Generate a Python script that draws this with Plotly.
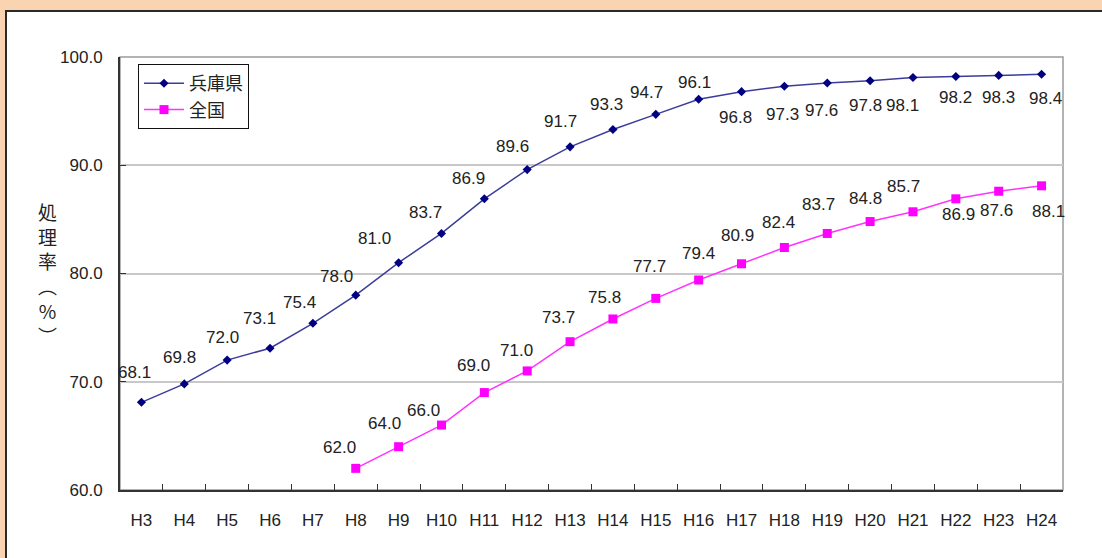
import plotly.graph_objects as go

categories = ["H3", "H4", "H5", "H6", "H7", "H8", "H9", "H10", "H11", "H12", "H13",
              "H14", "H15", "H16", "H17", "H18", "H19", "H20", "H21", "H22", "H23", "H24"]
hyogo = [68.1, 69.8, 72.0, 73.1, 75.4, 78.0, 81.0, 83.7, 86.9, 89.6, 91.7,
         93.3, 94.7, 96.1, 96.8, 97.3, 97.6, 97.8, 98.1, 98.2, 98.3, 98.4]
zenkoku_cats = categories[5:]
zenkoku = [62.0, 64.0, 66.0, 69.0, 71.0, 73.7, 75.8, 77.7, 79.4, 80.9, 82.4,
           83.7, 84.8, 85.7, 86.9, 87.6, 88.1]
y_ticks = [60, 70, 80, 90, 100]

# label offsets in screen pixels (dx right, dy down) -- styling only
hyogo_off = [(-7, -30), (-5, -26), (-5, -23), (-11, -30), (-13, -21), (-19, -19),
             (-24, -24), (-16, -21), (-16, -20), (-15, -23), (-10, -25), (-6, -25),
             (-9, -22), (-4, -17), (-6, 26), (-2, 28), (-6, 28), (-5, 25),
             (-10, 28), (0, 21), (0, 22), (4, 24)]
zenkoku_off = [(-16, -21), (-14, -23), (-18, -15), (-11, -27), (-11, -20), (-12, -24),
               (-8, -21), (-6, -32), (0, -27), (-4, -28), (-6, -25), (-9, -29),
               (-5, -23), (-9, -25), (3, 16), (-2, 19), (7, 26)]

W, H = 1102, 558
ML, MR, MT, MB = 120, 39, 57, 68
pw, ph = W - ML - MR, H - MT - MB

def px_x(p):
    return (p - ML) / pw

def px_y(p):
    return (H - MB - p) / ph

FONT = "Liberation Sans, Arial, Noto Sans CJK JP, sans-serif"
CJK = "Noto Sans CJK JP, sans-serif"
TXT = "#222222"

fig = go.Figure()
fig.add_trace(go.Scatter(
    x=categories, y=hyogo, name="兵庫県", mode="lines+markers",
    line=dict(color="#3c3c9c", width=1.5),
    marker=dict(symbol="diamond", size=7, color="#000080"),
    cliponaxis=False,
))
fig.add_trace(go.Scatter(
    x=zenkoku_cats, y=zenkoku, name="全国", mode="lines+markers",
    line=dict(color="#ff33ff", width=1.5),
    marker=dict(symbol="square", size=9, color="#ff00ff"),
    cliponaxis=False,
))

annotations = []
for c, v, (dx, dy) in zip(categories, hyogo, hyogo_off):
    annotations.append(dict(x=c, y=v, xref="x", yref="y", text=f"{v:.1f}",
                            showarrow=False, xshift=dx, yshift=-dy,
                            font=dict(family=FONT, size=17, color=TXT)))
for c, v, (dx, dy) in zip(zenkoku_cats, zenkoku, zenkoku_off):
    annotations.append(dict(x=c, y=v, xref="x", yref="y", text=f"{v:.1f}",
                            showarrow=False, xshift=dx, yshift=-dy,
                            font=dict(family=FONT, size=17, color=TXT)))
annotations.append(dict(
    x=px_x(47), y=px_y(273), xref="paper", yref="paper",
    text="処<br>理<br>率<br>︵<br>%<br>︶", showarrow=False,
    xanchor="center", yanchor="middle", align="center",
    font=dict(family=CJK, size=19, color=TXT),
))

shapes = [
    # white panel with dark border
    dict(type="rect", xref="paper", yref="paper", layer="below",
         x0=px_x(6), x1=px_x(1115), y0=px_y(11), y1=px_y(575),
         fillcolor="white", line=dict(color="#2a2a2a", width=2)),
    # grey plot frame (top/right)
    dict(type="rect", xref="paper", yref="paper", layer="below",
         x0=0, x1=1, y0=0, y1=1, line=dict(color="#9a9a9a", width=1.5)),
]

fig.update_layout(
    width=W, height=H,
    margin=dict(l=ML, r=MR, t=MT, b=MB, pad=0),
    paper_bgcolor="#fad4b0",
    plot_bgcolor="rgba(0,0,0,0)",
    font=dict(family=FONT, size=17, color=TXT),
    showlegend=True,
    legend=dict(x=px_x(138), y=px_y(64), xanchor="left", yanchor="top",
                bgcolor="white", bordercolor="#111111", borderwidth=1,
                font=dict(family=CJK, size=18, color=TXT),
                tracegroupgap=0, itemwidth=40),
    annotations=annotations,
    shapes=shapes,
    xaxis=dict(
        type="category", categoryorder="array", categoryarray=categories,
        range=[-0.5, len(categories) - 0.5],
        showgrid=False, showline=True, linecolor="#333333", linewidth=2,
        ticks="inside", tickson="boundaries", ticklen=6, tickcolor="#333333",
        tickwidth=1, ticklabelstandoff=14,
        tickfont=dict(family=FONT, size=17, color=TXT),
        zeroline=False,
    ),
    yaxis=dict(
        range=[60, 100], tickvals=y_ticks, tickformat=".1f",
        showgrid=True, gridcolor="#c8c8c8", gridwidth=1.5,
        showline=True, linecolor="#333333", linewidth=2,
        ticks="inside", ticklen=6, tickcolor="#333333", tickwidth=1,
        ticklabelstandoff=12,
        tickfont=dict(family=FONT, size=17, color=TXT),
        zeroline=False,
    ),
)

fig.write_html("out.html")
